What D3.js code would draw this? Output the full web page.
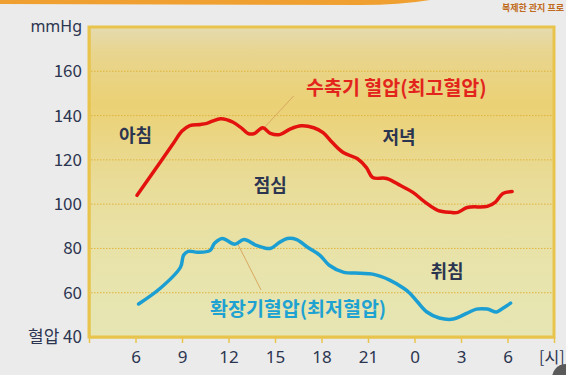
<!DOCTYPE html>
<html>
<head>
<meta charset="utf-8">
<script src="https://cdn.jsdelivr.net/npm/d3@7"></script>
<style>
  html, body { margin: 0; padding: 0; background: #ebebeb; }
  svg { display: block; }
</style>
</head>
<body>
<svg id="chart" width="566" height="375"></svg>
<script>
// hours on a continuous axis (24 = midnight, 30 = 6 next morning)
const systolicHours = [6.1, 7.3, 8.4, 9.0, 9.5, 10.2, 10.6, 11.5, 12.3, 12.9, 13.3, 13.7, 14.2, 14.7, 15.3, 16.0, 16.7, 17.5, 18.1, 18.7, 19.4, 20.3, 20.9, 21.3, 22.2, 23.1, 23.9, 24.7, 25.5, 26.3, 26.8, 27.4, 28.7, 29.2, 29.7, 30.3];
const systolicValues = [104, 116, 127, 133, 135.5, 136, 136.5, 138.6, 137, 134, 131.8, 132, 134.5, 132, 131.4, 134, 135.4, 134.5, 132.3, 127.8, 123.3, 120.6, 116.5, 112, 111.6, 108.4, 105.3, 100.8, 97.2, 96.3, 96.3, 98.5, 99, 100.8, 104.8, 105.7];

const diastolicHours = [6.2, 7.6, 8.9, 9.1, 9.4, 10.0, 10.8, 11.1, 11.6, 12.4, 13.0, 13.8, 14.7, 15.3, 15.8, 16.4, 17.1, 17.9, 18.5, 19.4, 20.5, 21.3, 22.4, 23.3, 23.7, 24.2, 24.8, 25.6, 26.5, 27.4, 28.0, 28.7, 29.3, 29.7, 30.2];
const diastolicValues = [54.9, 62, 71.5, 76.9, 78.7, 78.3, 79, 82.3, 84.5, 81.9, 84, 81.4, 80, 82.8, 84.5, 84, 80.5, 76.9, 72.4, 69.3, 68.8, 68.4, 65.7, 62, 59.8, 55.8, 51.3, 48.6, 48.1, 50.8, 52.6, 52.6, 51.3, 53, 55.3];

const xTickValues = [3, 6, 9, 12, 15, 18, 21, 24, 27, 30, 33];
const xTickLabels = ['', '6', '9', '12', '15', '18', '21', '0', '3', '6', ''];
const yTickValues = [40, 60, 80, 100, 120, 140, 160];
const yTickLabels = ['혈압 40', '60', '80', '100', '120', '140', '160'];

const periodNames = ['아침', '점심', '저녁', '취침'];
const periodHours = [6.0, 14.7, 23.0, 26.1];
const periodValues = [131, 108.5, 130, 69.3];

const systolicName = '수축기 혈압(최고혈압)';
const diastolicName = '확장기혈압(최저혈압)';

const svg = d3.select('#chart');
const plotLeft = 89, plotRight = 554, plotTop = 27, plotBottom = 337;

const x = d3.scaleLinear().domain([3, 33]).range([plotLeft, plotRight]);
const y = d3.scaleLinear().domain([40, 180]).range([plotBottom, plotTop]);

const fontKr = '"Noto Sans CJK KR", "Noto Sans", sans-serif';
const fontNum = '"Noto Sans", "Open Sans", sans-serif';

// top orange strip and watermark
svg.append('path')
    .attr('d', 'M0,0 L430,0 Q400,5 360,5 L0,4 Z')
    .attr('fill', '#f0a030');
svg.append('text')
    .attr('x', 564).attr('y', 11)
    .attr('text-anchor', 'end')
    .attr('font-family', fontKr).attr('font-size', 9).attr('font-weight', 'bold')
    .attr('fill', '#c06a20')
    .text('복제한 관지 프로');

// plot background
const defs = svg.append('defs');
const grad = defs.append('linearGradient').attr('id', 'bg').attr('x1', 0).attr('x2', 0).attr('y1', 0).attr('y2', 1);
[['0%', '#e5dbb0'], ['8%', '#e8d58f'], ['25%', '#ebd175'], ['50%', '#e9dc98'], ['75%', '#e8e3aa'], ['100%', '#e6e6b4']]
    .forEach(([o, c]) => grad.append('stop').attr('offset', o).attr('stop-color', c));

svg.append('rect')
    .attr('x', plotLeft).attr('y', plotTop)
    .attr('width', plotRight - plotLeft).attr('height', plotBottom - plotTop)
    .attr('fill', 'url(#bg)')
    .attr('stroke', '#e8c44c').attr('stroke-width', 3);

// grid
svg.append('g')
    .selectAll('line')
    .data(yTickValues.slice(1))
    .join('line')
    .attr('x1', plotLeft + 2).attr('x2', plotRight - 2)
    .attr('y1', d => y(d)).attr('y2', d => y(d))
    .attr('stroke', '#e0b43c').attr('stroke-width', 1)
    .attr('stroke-dasharray', '1.5,1.5');

// x axis
const xAxis = d3.axisBottom(x)
    .tickValues(xTickValues)
    .tickFormat((d, i) => xTickLabels[i])
    .tickSizeInner(6).tickSizeOuter(0).tickPadding(8);
const gx = svg.append('g').attr('transform', `translate(0,${plotBottom})`).call(xAxis);
gx.select('.domain').attr('stroke', '#e8c44c').attr('stroke-width', 2);
gx.selectAll('.tick line').attr('stroke', '#e8c44c').attr('stroke-width', 1.5);
gx.selectAll('.tick text')
    .attr('font-family', fontNum).attr('font-size', 17)
    .attr('fill', '#2c3550');
svg.append('text')
    .attr('x', 539).attr('y', 363)
    .attr('font-family', fontKr).attr('font-size', 16)
    .attr('fill', '#2c3550')
    .text('[시]');

// y axis
const yAxis = d3.axisLeft(y)
    .tickValues(yTickValues)
    .tickFormat((d, i) => yTickLabels[i])
    .tickSize(0).tickPadding(7);
const gy = svg.append('g').attr('transform', `translate(${plotLeft},0)`).call(yAxis);
gy.select('.domain').attr('stroke', '#e8c44c').attr('stroke-width', 2);
gy.selectAll('.tick text')
    .attr('font-family', fontKr).attr('font-size', 17)
    .attr('fill', '#2c3550');
svg.append('text')
    .attr('x', plotLeft - 7).attr('y', plotTop)
    .attr('dy', '0.32em')
    .attr('text-anchor', 'end')
    .attr('font-family', fontNum).attr('font-size', 16)
    .attr('fill', '#2c3550')
    .text('mmHg');

// leader lines
svg.append('line')
    .attr('x1', x(16.2)).attr('y1', 96).attr('x2', x(14.1)).attr('y2', y(133))
    .attr('stroke', '#d9a860').attr('stroke-width', 1);
svg.append('line')
    .attr('x1', x(12.6)).attr('y1', y(82)).attr('x2', x(14.1)).attr('y2', 290)
    .attr('stroke', '#d9a860').attr('stroke-width', 1);

// series lines
const line = d3.line().x(d => x(d[0])).y(d => y(d[1])).curve(d3.curveCatmullRom.alpha(0.5));
svg.append('path')
    .datum(systolicHours.map((h, i) => [h, systolicValues[i]]))
    .attr('d', line)
    .attr('fill', 'none').attr('stroke', '#e3120e').attr('stroke-width', 3.5)
    .attr('stroke-linecap', 'round').attr('stroke-linejoin', 'round');
svg.append('path')
    .datum(diastolicHours.map((h, i) => [h, diastolicValues[i]]))
    .attr('d', line)
    .attr('fill', 'none').attr('stroke', '#1b9ed2').attr('stroke-width', 3.5)
    .attr('stroke-linecap', 'round').attr('stroke-linejoin', 'round');

// series labels
svg.append('text')
    .attr('x', 306).attr('y', 88).attr('dy', '0.35em')
    .attr('font-family', fontKr).attr('font-size', 19.5).attr('font-weight', 'bold')
    .attr('fill', '#e3241c')
    .text(systolicName);
svg.append('text')
    .attr('x', 210).attr('y', 309).attr('dy', '0.35em')
    .attr('font-family', fontKr).attr('font-size', 19.5).attr('font-weight', 'bold')
    .attr('fill', '#1ea2d2')
    .text(diastolicName);

// period labels
svg.append('g')
    .selectAll('text')
    .data(periodNames)
    .join('text')
    .attr('x', (d, i) => x(periodHours[i]))
    .attr('y', (d, i) => y(periodValues[i]))
    .attr('dy', '0.35em')
    .attr('text-anchor', 'middle')
    .attr('font-family', fontKr).attr('font-size', 18).attr('font-weight', 'bold')
    .attr('fill', '#2c3550')
    .text(d => d);

// corner icon
svg.append('circle')
    .attr('cx', 566).attr('cy', 378).attr('r', 14)
    .attr('fill', '#5a5a5a');
</script>
</body>
</html>
